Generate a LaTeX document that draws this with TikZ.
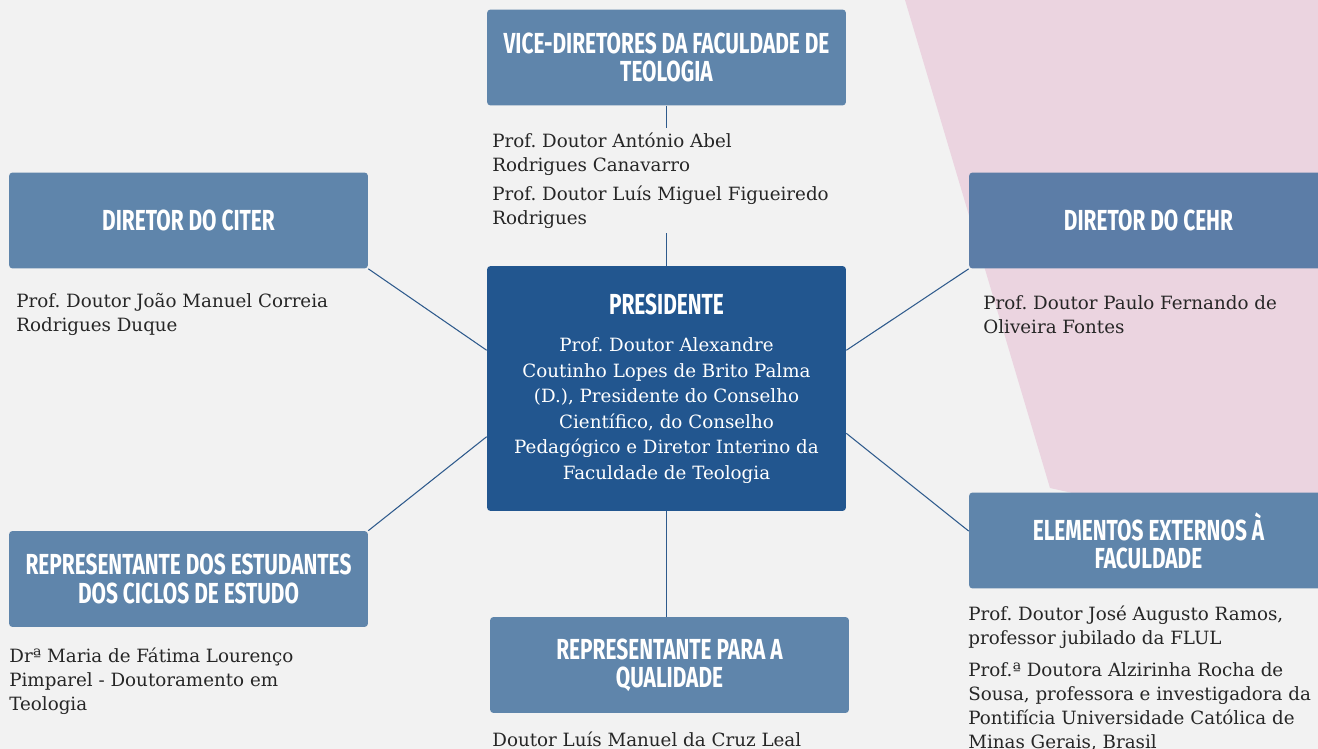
\documentclass[tikz,border=0pt]{standalone}
\usepackage{fontspec}
\usetikzlibrary{positioning}
\setmainfont{DejaVu Serif}
\newfontfamily\headfont[FakeStretch=0.72]{Fira Sans}
\frenchspacing
\definecolor{paper}{HTML}{F2F2F2}
\definecolor{blush}{HTML}{EBD4E0}
\definecolor{boxblue}{HTML}{5F85AB}
\definecolor{cehrblue}{HTML}{5C7DA7}
\definecolor{presblue}{HTML}{22568F}
\definecolor{linkblue}{HTML}{2E5A8C}
\definecolor{ink}{HTML}{262626}
\begin{document}
\begin{tikzpicture}[x=0.02cm, y=-0.02cm,
  box/.style = {fill=boxblue, rounded corners=2pt, minimum width=7.18cm, minimum height=1.92cm, align=center, text=white, font=\headfont\bfseries\fontsize{16.5}{16}\selectfont},
  txt/.style = {anchor=north west, align=left, inner xsep=0pt, inner ysep=2.5pt, text=ink, font=\fontsize{10.4}{13.6}\selectfont},
  link/.style = {draw=linkblue, line width=0.6pt}]
            \useasboundingbox (0,0) rectangle (1318,749);
            \fill[paper] (0,0) rectangle (1318,749);
            \fill[blush] (905,0) -- (1318,0) -- (1318,548) -- (1050,488) -- cycle;
            \node[box] (vice) at (666.5,57.5) {VICE-DIRETORES DA FACULDADE DE\\TEOLOGIA};
            \node[box] (citer) at (188.5,220.5) {DIRETOR DO CITER};
            \node[box, fill=cehrblue] (cehr) at (1148.5,220.5) {DIRETOR DO CEHR};
            \node[box, fill=presblue, minimum height=4.9cm, font=\fontsize{10.4}{14.5}\selectfont] (pres) at (666.5,388.5) {{\headfont\bfseries\fontsize{16.5}{16}\selectfont PRESIDENTE}\\[7pt]Prof. Doutor Alexandre\\Coutinho Lopes de Brito Palma\\(D.), Presidente do Conselho\\Científico, do Conselho\\Pedagógico e Diretor Interino da\\Faculdade de Teologia};
            \node[box] (stud) at (188.5,579) {REPRESENTANTE DOS ESTUDANTES\\DOS CICLOS DE ESTUDO};
            \node[box] (qual) at (669.5,665) {REPRESENTANTE PARA A\\QUALIDADE};
            \node[box] (ext) at (1148.5,540.5) {ELEMENTOS EXTERNOS À\\FACULDADE};
            \node[txt] (vicetxt) at (492,128) {Prof. Doutor António Abel\\Rodrigues Canavarro\\[3pt]Prof. Doutor Luís Miguel Figueiredo\\Rodrigues};
            \node[txt] (citertxt) at (16,289) {Prof. Doutor João Manuel Correia\\Rodrigues Duque};
            \node[txt] (cehrtxt) at (983,291) {Prof. Doutor Paulo Fernando de\\Oliveira Fontes};
            \node[txt] (studtxt) at (9,643) {Drª Maria de Fátima Lourenço\\Pimparel - Doutoramento em\\Teologia};
            \node[txt] (qualtxt) at (492,727) {Doutor Luís Manuel da Cruz Leal};
            \node[txt] (exttxt) at (968,601) {Prof. Doutor José Augusto Ramos,\\professor jubilado da FLUL\\[5pt]Prof.ª Doutora Alzirinha Rocha de\\Sousa, professora e investigadora da\\Pontifícia Universidade Católica de\\Minas Gerais, Brasil};
            \draw[link] (vice.south) -- (vice.south |- vicetxt.north);
            \draw[link] (vice.south |- vicetxt.south) -- (pres.north);
            \draw[link] (citer.south east) -- (pres.168);
            \draw[link] (stud.north east) -- (pres.195);
            \draw[link] (cehr.south west) -- (pres.12);
            \draw[link] (ext.177) -- (pres.346);
            \draw[link] (pres.south) -- (pres.south |- qual.north);
        \end{tikzpicture}
\end{document}
